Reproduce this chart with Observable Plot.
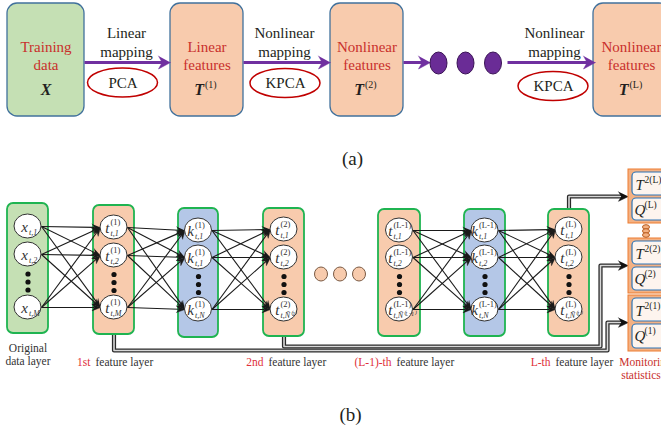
<!DOCTYPE html>
<html>
<head>
<meta charset="utf-8">
<script src="https://cdn.jsdelivr.net/npm/d3@7"></script>
<script src="https://cdn.jsdelivr.net/npm/@observablehq/plot@0.6"></script>
<style>html,body{margin:0;padding:0;background:#fff;overflow:hidden}#chart svg{display:block}</style>
</head>
<body>
<div id="chart"></div>
<script>
// ---------- content: (a) pipeline ----------
const stageLines    = [["Training","data"],["Linear","features"],["Nonlinear","features"],["Nonlinear","features"]];
const stageSymbol   = ["X","T","T","T"];
const stageSup      = ["","(1)","(2)","(L)"];
const stageKind     = ["data","feature","feature","feature"];
const mappingType   = ["Linear","Nonlinear","Nonlinear"];
const mappingWord   = ["mapping","mapping","mapping"];
const mappingMethod = ["PCA","KPCA","KPCA"];

// ---------- content: (b) network ----------
const layerKind   = ["data","feature","kernel","feature","feature","kernel","feature"];
const layerLetter = ["x","t","k","t","t","k","t"];
const layerSup    = ["","(1)","(1)","(2)","(L-1)","(L-1)","(L)"];
const layerSubs   = [["t,1","t,2","t,M"],["t,1","t,2","t,M"],["t,1","t,1","t,N"],["t,1","t,2","t,Ñ⁽²⁾"],["t,1","t,2","t,Ñ⁽ᴸ⁻¹⁾"],["t,1","t,2","t,N"],["t,1","t,2","t,Ñ⁽ᴸ⁾"]];
const layerLinks  = [[0,1],[1,2],[2,3],[4,5],[5,6]];
const dataCaption = ["Original","data layer"];
const captionRed  = ["1st","2nd","(L-1)-th","L-th"];
const captionRest = ["feature layer","feature layer","feature layer","feature layer"];
const statSup     = ["(L)","(2)","(1)"];
const statFeed    = [6,3,1];
const statCaption = ["Monitoring","statistics"];
const panelTags   = ["(a)","(b)"];

// ---------- layout ----------
const W = 661, H = 432;
const serif = "'Liberation Serif', 'Times New Roman', serif";
const red = "#c9302c", ink = "#231f20";
const kindFill = {data:"#c5e0b4", feature:"#f8cbad", kernel:"#b4c7e7"};

const stageX1=[7,170,330,593], stageX2=[84,243,403,669], stageY1=3, stageY2=116;
const mapX=[126,284,554], mapY=[33,52];
const methodX=[122.5,285,553], methodY=[82.5,83,86], methodRX=35, methodRY=14.5;
const flowX1=[84,243,403,507], flowX2=[170,330,430,595], flowY=62;
const bigDotX=[438.5,465.5,493], bigDotY=63, bigDotRX=8.5, bigDotRY=11;
const layerX1=[7,93,178,263,378,464,548], layerX2=[48,134,218,304,420,505,589];
const layerY1=[203,205,208,208,209,209,209], layerY2=[333,334,337,336,336,336,336];
const nodeY=[[226,254,307],[227,255,307],[230,257,309],[229,257,309],[230,257,309],[230,257,309],[229,257,309]];
const nodeRX=13.5, nodeRY=12;
const midDotX=[321,340,359], midDotY=274;
const statX1=628, statX2=672, statY1=[169,238,295], statY2=[223,293,351];
const chainX=646, chainY=[227,231,235];
const captionRedEnd=[90,263,391,550], captionY=362;
const routeTurnX=[null,600,607], routeLowY=[null,346,350], routeArrowY=[196,265,322];
const tagPos=[[352,158],[350,414]];

// ---------- derived tables ----------
const cxL = i => (layerX1[i]+layerX2[i])/2;
const stages = stageLines.map((l,i)=>({x1:stageX1[i],x2:stageX2[i],y1:stageY1,y2:stageY2,fill:kindFill[stageKind[i]],cx:(stageX1[i]+stageX2[i])/2}));
const stageTitle = stages.flatMap((s,i)=>stageLines[i].map((t,j)=>({x:s.cx,y:[47,65][j],t})));
const stageSymX = stages.map((s,i)=>({x:s.cx,y:89,t:stageSymbol[i],sup:stageSup[i]}));
const mapText = mappingType.flatMap((t,i)=>[{x:mapX[i],y:mapY[0],t},{x:mapX[i],y:mapY[1],t:mappingWord[i]}]);
const methods = mappingMethod.map((t,i)=>({t,x:methodX[i],y:methodY[i],x1:methodX[i]-methodRX,x2:methodX[i]+methodRX,y1:methodY[i]-methodRY,y2:methodY[i]+methodRY}));
const bigDots = bigDotX.map(x=>({x1:x-bigDotRX,x2:x+bigDotRX,y1:bigDotY-bigDotRY,y2:bigDotY+bigDotRY}));

function arrow(id,x1,y1,x2,y2,len,hw){
  const dx=x2-x1, dy=y2-y1, d=Math.hypot(dx,dy), ux=dx/d, uy=dy/d;
  const bx=x2-ux*len, by=y2-uy*len, nx=x2-ux*len*0.7, ny=y2-uy*len*0.7;
  return {line:{x1,y1,x2:nx,y2:ny},
          head:[{id,x:x2,y:y2},{id,x:bx-uy*hw,y:by+ux*hw},{id,x:nx,y:ny},{id,x:bx+uy*hw,y:by-ux*hw}]};
}
const flows = flowX1.map((x,i)=>arrow("f"+i,x,flowY,flowX2[i],flowY,12,6.5));

const layers = layerKind.map((k,i)=>({x1:layerX1[i],x2:layerX2[i],y1:layerY1[i],y2:layerY2[i],fill:kindFill[k]}));
const nodes = layerKind.flatMap((k,i)=>nodeY[i].map((y,j)=>({i,j,cx:cxL(i),y,x1:cxL(i)-nodeRX,x2:cxL(i)+nodeRX,y1:y-nodeRY,y2:y+nodeRY})));
const nodeMain=[], nodeSupT=[], nodeSubT=[];
nodes.forEach(n=>{
  const L=layerLetter[n.i], sp=layerSup[n.i];
  const shift = L==="x" ? -1 : (sp.length>3 ? 6 : 3.5);
  nodeMain.push({x:n.cx-shift-1,y:n.y+0.5,t:L});
  if(sp) nodeSupT.push({x:n.cx-shift,y:n.y-5.5,t:sp});
  nodeSubT.push({x:n.cx-shift,y:n.y+5.5,t:layerSubs[n.i][n.j]});
});
const vdots = layerKind.flatMap((k,i)=>{const m=(nodeY[i][1]+nodeY[i][2])/2+1; return [m-8,m,m+8].map(y=>({x:cxL(i),y}));});
const edges = layerLinks.flatMap(([a,b])=>nodeY[a].flatMap((ya,p)=>nodeY[b].map((yb,q)=>arrow(`e${a}${p}${q}`,cxL(a)+nodeRX,ya,cxL(b)-nodeRX,yb,8.5,3.4))));
const midDots = midDotX.map(x=>({x1:x-6.5,x2:x+6.5,y1:midDotY-7,y2:midDotY+7}));

const stats = statSup.map((s,i)=>({s,x1:statX1,x2:statX2,y1:statY1[i],y2:statY2[i]}));
const statInner = stats.flatMap(g=>[{x1:g.x1+4,x2:g.x2-2,y1:g.y1+3,y2:g.y1+26},{x1:g.x1+4,x2:g.x2-2,y1:g.y1+29,y2:g.y2-3}]);
const statMain = stats.flatMap(g=>[{x:635,y:g.y1+16,t:"T"},{x:634,y:g.y1+41,t:"Q"}]);
const statSupT = stats.flatMap(g=>[{x:644,y:g.y1+10,t:"2"+g.s},{x:644,y:g.y1+35,t:g.s}]);
const chain = chainY.map(y=>({x1:chainX-3.5,x2:chainX+3.5,y1:y-2.3,y2:y+2.3}));

const routes = statFeed.map((li,g)=>{
  const x0=cxL(li), tipY=routeArrowY[g];
  let pts;
  if(g===0) pts=[[x0,layerY1[li]],[x0,tipY],[statX1,tipY]];
  else pts=[[x0,layerY2[li]],[x0,routeLowY[g]],[routeTurnX[g],routeLowY[g]],[routeTurnX[g],tipY],[statX1,tipY]];
  const n=pts.length, a=arrow("r"+g,pts[n-2][0],pts[n-2][1],pts[n-1][0],pts[n-1][1],10,4.8);
  pts[n-1]=[statX1-8,tipY];
  return {pts:pts.map(([x,y])=>({id:"r"+g,x,y})),head:a.head};
});
const routePts = routes.flatMap(r=>r.pts);
const routeHeads = routes.flatMap(r=>r.head);

const captions = captionRed.map((t,i)=>({x:captionRedEnd[i],y:captionY,t,rest:captionRest[i]}));
const dataCap = dataCaption.map((t,j)=>({x:cxL(0),y:[348,361][j],t}));
const statCap = statCaption.map((t,j)=>({x:[645,640.5][j],y:[362,375][j],t}));
const tags = panelTags.map((t,i)=>({x:tagPos[i][0],y:tagPos[i][1],t}));

const T = (data,o)=>Plot.text(data,{x:"x",y:"y",text:"t",fontFamily:serif,...o});

const chart = Plot.plot({
  width:W, height:H, margin:0,
  x:{domain:[0,W],range:[0,W],axis:null},
  y:{domain:[0,H],range:[0,H],axis:null},
  style:{background:"#fff",overflow:"hidden"},
  marks:[
    // (a)
    Plot.rect(stages,{x1:"x1",x2:"x2",y1:"y1",y2:"y2",fill:"fill",stroke:"#41719c",strokeWidth:1.3,rx:10}),
    Plot.link(flows.map(f=>f.line),{x1:"x1",y1:"y1",x2:"x2",y2:"y2",stroke:"#7030a0",strokeWidth:3}),
    Plot.line(flows.flatMap(f=>f.head),{x:"x",y:"y",z:"id",fill:"#7030a0",stroke:"#7030a0",strokeWidth:0.5}),
    Plot.rect(bigDots,{x1:"x1",x2:"x2",y1:"y1",y2:"y2",rx:100,ry:100,fill:"#6a2c96",stroke:"#3b1456",strokeWidth:1}),
    Plot.rect(methods,{x1:"x1",x2:"x2",y1:"y1",y2:"y2",rx:100,ry:100,fill:"#fff",stroke:"#c00000",strokeWidth:1.5}),
    T(methods,{fontSize:15,fill:ink}),
    T(mapText,{fontSize:15,fill:ink}),
    T(stageTitle,{fontSize:15,fill:red}),
    T(stageSymX.filter(d=>!d.sup),{fontSize:16,fontWeight:"bold",fontStyle:"italic",fill:ink}),
    T(stageSymX.filter(d=>d.sup),{fontSize:16,fontWeight:"bold",fontStyle:"italic",fill:ink,textAnchor:"end",dx:-3}),
    Plot.text(stageSymX.filter(d=>d.sup),{x:"x",y:d=>d.y-5,text:"sup",fontFamily:serif,fontSize:10,fill:ink,textAnchor:"start",dx:-2}),
    T(tags,{fontSize:19,fill:ink}),
    // (b) connectors
    Plot.line(routePts,{x:"x",y:"y",z:"id",stroke:"#2a2a2a",strokeWidth:4.2}),
    Plot.line(routePts,{x:"x",y:"y",z:"id",stroke:"#d8d8d8",strokeWidth:1.6}),
    Plot.line(routeHeads,{x:"x",y:"y",z:"id",fill:"#111",stroke:"#111",strokeWidth:0.5}),
    // layers
    Plot.rect(layers,{x1:"x1",x2:"x2",y1:"y1",y2:"y2",fill:"fill",stroke:"#1fb451",strokeWidth:1.8,rx:6}),
    Plot.link(edges.map(e=>e.line),{x1:"x1",y1:"y1",x2:"x2",y2:"y2",stroke:"#1a1a1a",strokeWidth:1.1}),
    Plot.line(edges.flatMap(e=>e.head),{x:"x",y:"y",z:"id",fill:"#1a1a1a",stroke:"#1a1a1a",strokeWidth:0.4}),
    Plot.rect(nodes,{x1:"x1",x2:"x2",y1:"y1",y2:"y2",rx:100,ry:100,fill:"#fff",stroke:"#333",strokeWidth:1}),
    Plot.dot(vdots,{x:"x",y:"y",r:2.6,fill:"#111"}),
    T(nodeMain,{fontSize:15,fontStyle:"italic",fill:"#333",textAnchor:"end"}),
    T(nodeSupT,{fontSize:8.5,fill:"#333",textAnchor:"start"}),
    T(nodeSubT,{fontSize:8,fontStyle:"italic",fill:"#333",textAnchor:"start"}),
    Plot.rect(midDots,{x1:"x1",x2:"x2",y1:"y1",y2:"y2",rx:100,ry:100,fill:"#f8cbad",stroke:"#7a5a44",strokeWidth:1}),
    // monitoring statistics
    Plot.rect(stats,{x1:"x1",x2:"x2",y1:"y1",y2:"y2",fill:"#f4b183",stroke:"#ed7d31",strokeWidth:1}),
    Plot.rect(statInner,{x1:"x1",x2:"x2",y1:"y1",y2:"y2",fill:"#fdf4ee",stroke:"#2e75b6",strokeWidth:1.2,rx:4}),
    T(statMain,{fontSize:15,fontStyle:"italic",fill:ink,textAnchor:"start"}),
    T(statSupT,{fontSize:9.5,fill:ink,textAnchor:"start"}),
    Plot.rect(chain,{x1:"x1",x2:"x2",y1:"y1",y2:"y2",rx:100,ry:100,fill:"#f4b183",stroke:"#b85a1c",strokeWidth:1}),
    // captions
    T(dataCap,{fontSize:11.5,fill:"#333"}),
    T(captions,{fontSize:11.5,fill:"#e0303a",textAnchor:"end"}),
    Plot.text(captions,{x:"x",y:"y",text:"rest",fontFamily:serif,fontSize:11.5,fill:"#333",textAnchor:"start",dx:5}),
    T(statCap,{fontSize:11.5,fill:red})
  ]
});
document.getElementById("chart").appendChild(chart);
</script>
</body>
</html>
